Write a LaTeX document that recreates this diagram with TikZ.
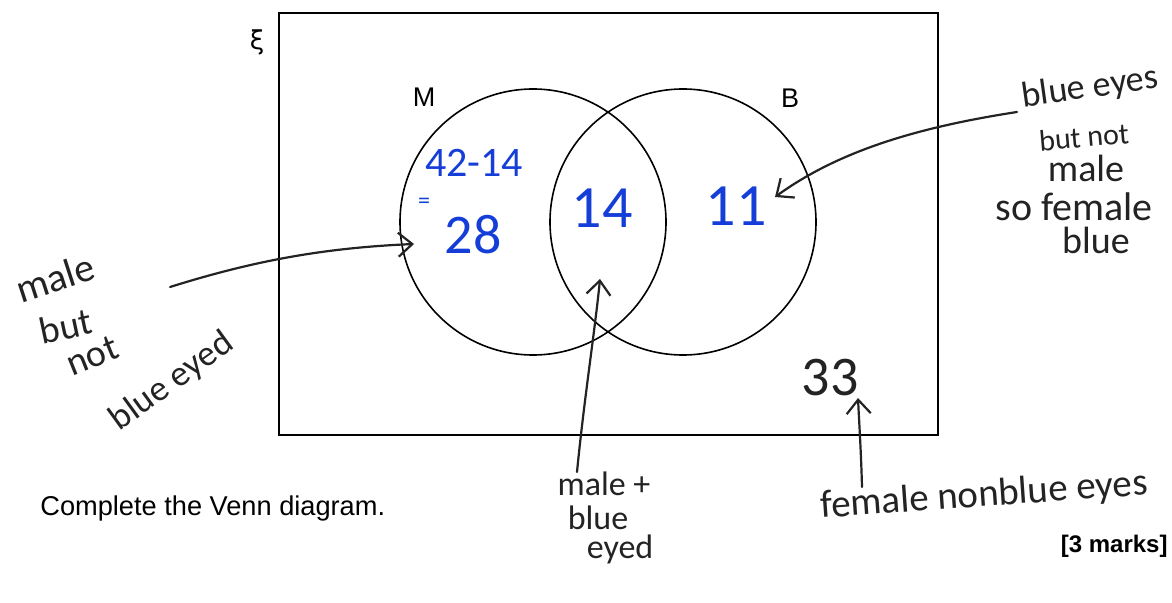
\documentclass[tikz,border=0pt]{standalone}
\usepackage{fontspec}
\setmainfont{Liberation Sans}
\newfontfamily\hand{Carlito}
\newfontfamily\greekf{DejaVu Sans}
\usetikzlibrary{arrows.meta}
\definecolor{inkblue}{RGB}{20,62,215}
\definecolor{inkblack}{RGB}{35,35,35}
\begin{document}
\begin{tikzpicture}[x=0.5pt,y=-0.5pt,
  frame/.style={draw=black, line width=1pt, inner sep=0pt},
  setc/.style={draw=black, line width=0.8pt, circle, inner sep=0pt, minimum size=133pt},
  lab/.style={font=\fontsize{13.5}{13.5}\selectfont, inner sep=0pt},
  ink/.style={draw=inkblack, line width=1.1pt, line cap=round, line join=round},
  tipc/.style={-{Straight Barb[length=7pt,width=12pt,line width=1.1pt]}},
  bnum/.style={text=inkblue, inner sep=0pt},
  hw/.style={font=\hand\fontsize{17}{17}\selectfont, text=inkblack, inner sep=0pt, align=center}
]
\useasboundingbox (0,0) rectangle (1172,603);
% universal set
\node[frame, minimum width=329.5pt, minimum height=211pt, anchor=north west] (U) at (278,12) {};
\node[lab, font=\greekf\fontsize{13}{13}\selectfont] (xi) at (257,42) {ξ};
% sets
\node[setc] (M) at (533,222) {};
\node[setc] (B) at (683,222) {};
\node[lab] (Ml) at (424,97) {M};
\node[lab] (Bl) at (790,98) {B};
% numbers
\node[bnum, font=\hand\fontsize{21}{21}\selectfont] (calc) at (474,163) {42-14};
\node[bnum, font=\hand\fontsize{12}{12}\selectfont] (eq) at (424,203) {=};
\node[bnum, font=\hand\fontsize{28}{28}\selectfont] (n28) at (473,235) {28};
\node[bnum, font=\hand\fontsize{30}{30}\selectfont] (n14) at (602,208) {14};
\node[bnum, font=\hand\fontsize{30}{30}\selectfont] (n11) at (736,206) {11};
\node[text=inkblack, inner sep=0pt, font=\hand\fontsize{28}{28}\selectfont] (n33) at (830,378) {33};
% annotations
\node[hw, font=\hand\fontsize{20}{20}\selectfont, rotate=18] (t1) at (55,278) {male};
\node[hw, font=\hand\fontsize{19}{19}\selectfont, rotate=12] (t2) at (66,326) {but};
\node[hw, font=\hand\fontsize{19}{19}\selectfont, rotate=22] (t3) at (92,356) {not};
\node[hw, font=\hand\fontsize{18}{18}\selectfont, rotate=36] (t4) at (172,382) {blue eyed};
\node[hw, font=\hand\fontsize{18}{18}\selectfont, rotate=8] (r1) at (1090,88) {blue eyes};
\node[hw, font=\hand\fontsize{15}{15}\selectfont, rotate=5] (r2) at (1084,137) {but not};
\node[hw, font=\hand\fontsize{19}{19}\selectfont] (r3) at (1086,168) {male};
\node[hw, font=\hand\fontsize{20}{20}\selectfont] (r4) at (1074,207) {so female};
\node[hw, font=\hand\fontsize{19}{19}\selectfont] (r5) at (1096,240) {blue};
\node[hw, font=\hand\fontsize{17}{17}\selectfont] (c1) at (604,484) {male +};
\node[hw, font=\hand\fontsize{17}{17}\selectfont] (c2) at (598,518) {blue};
\node[hw, font=\hand\fontsize{17}{17}\selectfont] (c3) at (620,549) {eyed};
\node[hw, font=\hand\fontsize{19.5}{19.5}\selectfont, rotate=4] (f1) at (984,496) {female nonblue eyes};
\node[inner sep=0pt, font=\fontsize{13.6}{13.6}\selectfont, anchor=west] (q) at (40,508) {Complete the Venn diagram.};
\node[inner sep=0pt, font=\bfseries\fontsize{12}{12}\selectfont, anchor=east] (mk) at (1168,546) {[3 marks]};
% arrows
\coordinate (a1s) at (170,287);
\coordinate (a1e) at (414,244);
\coordinate (a2s) at (1017,112);
\coordinate (a2e) at (775,197);
\coordinate (a3s) at (577,472);
\coordinate (a3e) at (600,279);
\coordinate (a4s) at (862,487);
\coordinate (a4e) at (858,398);
\draw[ink, tipc] (a1s) .. controls (250,262) and (320,248) .. (a1e);
\draw[ink, tipc] (a2s) .. controls (920,127) and (840,150) .. (a2e);
\draw[ink, tipc] (a3s) .. controls (584,400) and (595,330) .. (a3e);
\draw[ink, tipc] (a4s) .. controls (861,450) and (859,420) .. (a4e);
\end{tikzpicture}
\end{document}
